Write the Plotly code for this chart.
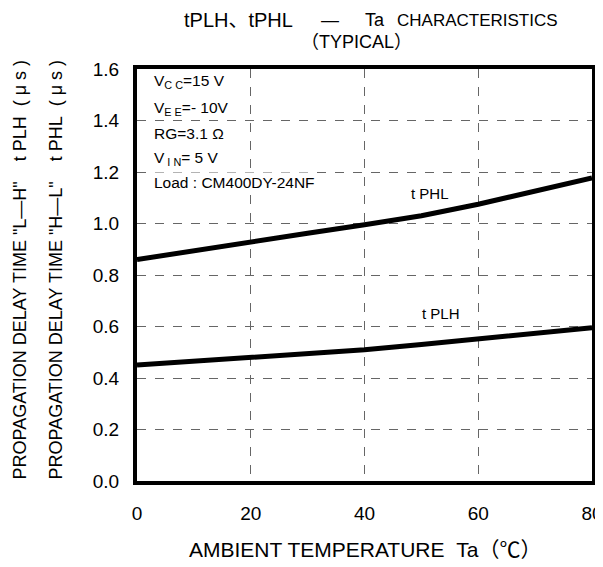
import plotly.graph_objects as go

ta = [0, 10, 20, 30, 40, 50, 60, 70, 80]
tphl = [0.86, 0.895, 0.93, 0.962, 0.995, 1.03, 1.075, 1.125, 1.177]
tplh = [0.45, 0.465, 0.48, 0.495, 0.51, 0.53, 0.552, 0.573, 0.595]

x_ticks = [0, 20, 40, 60, 80]
y_ticks = [0.0, 0.2, 0.4, 0.6, 0.8, 1.0, 1.2, 1.4, 1.6]

conditions = ["V<sub>C C</sub>=15 V", "V<sub>E E</sub>=- 10V", "RG=3.1 Ω",
              "V<sub> I N</sub>= 5 V", "Load : CM400DY-24NF"]
cond_y = [1.553, 1.445, 1.348, 1.254, 1.161]

FONT = "Liberation Sans, Arial, Noto Sans CJK JP, sans-serif"
NB = "\u00a0"

fig = go.Figure()
fig.add_trace(go.Scatter(x=ta, y=tphl, mode="lines", line=dict(color="black", width=5), showlegend=False))
fig.add_trace(go.Scatter(x=ta, y=tplh, mode="lines", line=dict(color="black", width=5), showlegend=False))

# page body has an 8px margin: compensate so plot frame sits at x 137..592, y 69..481
fig.update_layout(
    width=595, height=559,
    margin=dict(l=129, r=11, t=61, b=86, autoexpand=False),
    paper_bgcolor="white", plot_bgcolor="white",
    font=dict(family=FONT, color="black"),
    showlegend=False,
)
fig.update_xaxes(range=[0, 80], tickvals=x_ticks, ticktext=[str(v) for v in x_ticks],
                 showgrid=True, gridcolor="#666", gridwidth=1, griddash="dash",
                 showline=True, linecolor="black", linewidth=4, mirror=True,
                 ticks="outside", ticklen=12, tickcolor="rgba(0,0,0,0)",
                 tickfont=dict(size=19), zeroline=False, automargin=False,
                 ticklabeloverflow="allow")
fig.update_yaxes(range=[0, 1.6], tickvals=y_ticks, ticktext=[f"{v:.1f}" for v in y_ticks],
                 showgrid=True, gridcolor="#666", gridwidth=1, griddash="dash",
                 showline=True, linecolor="black", linewidth=4, mirror=True,
                 ticks="outside", ticklen=10, tickcolor="rgba(0,0,0,0)",
                 tickfont=dict(size=19), zeroline=False, automargin=False)

# title (pieces placed to follow the reference's wide spacing)
title_parts = [("tPLH、tPHL", 238 - 137, 20), ("—", 330 - 137, 18), ("Ta", 375 - 137, 18),
               ("CHARACTERISTICS", 477 - 137, 17)]
for txt, dx, fs in title_parts:
    fig.add_annotation(text=txt, xref="paper", yref="paper", x=0, y=1, xshift=dx, yshift=49,
                       xanchor="center", yanchor="middle", showarrow=False, font=dict(size=fs))
fig.add_annotation(text="（TYPICAL）", xref="paper", yref="paper", x=0, y=1, xshift=356 - 137, yshift=27,
                   xanchor="center", yanchor="middle", showarrow=False, font=dict(size=18))

# axis titles
fig.add_annotation(text=f"AMBIENT TEMPERATURE{NB}{NB}Ta（℃）", xref="paper", yref="paper",
                   x=0, y=0, xshift=365 - 137, yshift=-68, xanchor="center", yanchor="middle",
                   showarrow=False, font=dict(size=21))
fig.add_annotation(text=f"PROPAGATION DELAY TIME \"L—H\"{NB}{NB}{NB}{NB}t PLH{NB}{NB}( μ s )",
                   xref="paper", yref="paper", x=0, y=0.5, xshift=-117.5, yshift=5,
                   xanchor="center", yanchor="middle", textangle=-90, showarrow=False, font=dict(size=18))
fig.add_annotation(text=f"PROPAGATION DELAY TIME \"H—L\"{NB}{NB}{NB}{NB}t PHL{NB}{NB}( μ s )",
                   xref="paper", yref="paper", x=0, y=0.5, xshift=-81.5, yshift=5,
                   xanchor="center", yanchor="middle", textangle=-90, showarrow=False, font=dict(size=18))

# curve labels
fig.add_annotation(text="t PHL", x=51.5, y=1.115, showarrow=False, font=dict(size=15))
fig.add_annotation(text="t PLH", x=53.4, y=0.652, showarrow=False, font=dict(size=15))

# conditions
for t, yy in zip(conditions, cond_y):
    fig.add_annotation(text=t, x=2.6, y=yy, xanchor="left", showarrow=False,
                       font=dict(size=15.5), bgcolor="white")

fig.write_html("out.html")
